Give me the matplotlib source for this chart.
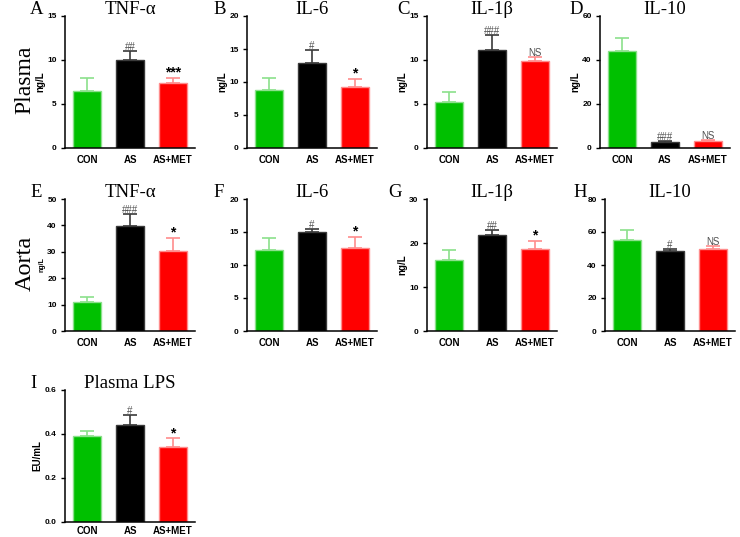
import matplotlib.pyplot as plt

# groups shared by every panel
groups = ['CON', 'AS', 'AS+MET']
bar_colors = ['#00c000', '#000000', '#ff0000']
edge_colors = ['#8be08b', '#3a3a3a', '#ff8c8c']

# panel data (mean, upper error end)
tnf_plasma = [6.5, 10.0, 7.35]
tnf_plasma_top = [7.95, 11.0, 8.0]
il6_plasma = [8.8, 12.9, 9.3]
il6_plasma_top = [10.55, 14.9, 10.4]
il1b_plasma = [5.25, 11.1, 9.9]
il1b_plasma_top = [6.35, 12.85, 10.33]
il10_plasma = [44.1, 2.9, 3.1]
il10_plasma_top = [50.0, 3.4, 3.8]

tnf_aorta = [10.8, 39.9, 30.2]
tnf_aorta_top = [12.7, 44.2, 35.1]
il6_aorta = [12.25, 15.0, 12.6]
il6_aorta_top = [14.1, 15.5, 14.3]
il1b_aorta = [16.25, 21.8, 18.75]
il1b_aorta_top = [18.45, 22.9, 20.4]
il10_aorta = [55.1, 48.2, 49.4]
il10_aorta_top = [61.5, 50.0, 51.8]

lps = [0.39, 0.442, 0.343]
lps_top = [0.412, 0.485, 0.38]

# significance marks above AS and AS+MET
marks = {
    'A': ['##', '***'], 'B': ['#', '*'], 'C': ['###', 'NS'], 'D': ['###', 'NS'],
    'E': ['###', '*'], 'F': ['#', '*'], 'G': ['##', '*'], 'H': ['#', 'NS'],
    'I': ['#', '*'],
}

panels = [
    # letter, title, means, tops, ymax, ystep, ylabel, ylabel size
    ('A', 'TNF-α', tnf_plasma, tnf_plasma_top, 15, 5, 'ng/L', 7),
    ('B', 'IL-6', il6_plasma, il6_plasma_top, 20, 5, 'ng/L', 7),
    ('C', 'IL-1β', il1b_plasma, il1b_plasma_top, 15, 5, 'ng/L', 7),
    ('D', 'IL-10', il10_plasma, il10_plasma_top, 60, 20, 'ng/L', 7),
    ('E', 'TNF-α', tnf_aorta, tnf_aorta_top, 50, 10, 'ng/L', 5),
    ('F', 'IL-6', il6_aorta, il6_aorta_top, 20, 5, '', 7),
    ('G', 'IL-1β', il1b_aorta, il1b_aorta_top, 30, 10, 'ng/L', 7),
    ('H', 'IL-10', il10_aorta, il10_aorta_top, 80, 20, '', 7),
    ('I', 'Plasma LPS', lps, lps_top, 0.6, 0.2, 'EU/mL', 7),
]

W, H = 740, 537
# axes left edge (px), axes top (px), letter x (px)
layout = {
    'A': (65, 16, 37), 'B': (247, 16, 220), 'C': (427, 16, 403), 'D': (600, 16, 576),
    'E': (65, 199, 36), 'F': (247, 199, 219), 'G': (427, 199, 395), 'H': (605, 199, 580),
    'I': (65, 390, 33),
}
ax_w, ax_h = 130, 132

serif = 'Liberation Serif'
sans = 'Liberation Sans'

fig = plt.figure(figsize=(W / 100, H / 100), dpi=100)

for letter, title, means, tops, ymax, ystep, ylabel, ylsize in panels:
    left, top, lx = layout[letter]
    ax = fig.add_axes([left / W, 1 - (top + ax_h) / H, ax_w / W, ax_h / H])
    x = list(range(len(groups)))
    errs = [t - m for t, m in zip(tops, means)]
    for i in x:
        ax.bar(i, means[i], width=0.65, color=bar_colors[i],
               edgecolor=edge_colors[i], linewidth=1.0, zorder=2)
        ax.errorbar(i, means[i], yerr=[[0], [errs[i]]], color=edge_colors[i],
                    elinewidth=1.2, capsize=5, capthick=1.2, zorder=1)
    ax.set_xlim(-0.51, 2.51)
    ax.set_ylim(0, ymax)
    n = int(round(ymax / ystep))
    ticks = [ystep * k for k in range(n + 1)]
    ax.set_yticks(ticks)
    if ystep < 1:
        ax.set_yticklabels([f'{t:.1f}' for t in ticks])
    else:
        ax.set_yticklabels([f'{t:g}' for t in ticks])
    ax.set_xticks(x)
    ax.set_xticklabels(groups)
    for lab in ax.get_yticklabels():
        lab.set_fontfamily(sans)
        lab.set_fontweight('bold')
        lab.set_fontsize(6)
    for lab in ax.get_xticklabels():
        lab.set_fontfamily(sans)
        lab.set_fontweight('bold')
        lab.set_fontsize(7)
    ax.tick_params(axis='y', direction='out', length=3, width=1, pad=3)
    # bottom row sits at the figure edge, pull its labels in a little
    ax.tick_params(axis='x', length=0, pad=3 if letter == 'I' else 5)
    for s in ['top', 'right']:
        ax.spines[s].set_visible(False)
    for s in ['left', 'bottom']:
        ax.spines[s].set_linewidth(1.1)
    if ylabel:
        ax.set_ylabel(ylabel, fontfamily=sans, fontweight='bold',
                      fontsize=ylsize, labelpad=1.5)
    fig.text((left + ax_w / 2) / W, 1 - (top - 2) / H, title,
             fontfamily=serif, fontsize=13.5, ha='center', va='baseline')
    fig.text(lx / W, 1 - (top - 2) / H, letter, fontfamily=serif,
             fontsize=13.5, ha='center', va='baseline')

    # significance marks
    for j, m in enumerate(marks[letter]):
        i = j + 1
        if m.startswith('#') or m == 'NS':
            ax.text(i, tops[i] - ymax * 0.008, m, ha='center', va='bottom',
                    fontsize=7, color='#505050', fontfamily=sans)
        else:
            ax.text(i, tops[i] - ymax * 0.012, m, ha='center', va='bottom',
                    fontsize=10, color='black', fontfamily=sans,
                    fontweight='bold')

fig.text(25 / W, 1 - 80 / H, 'Plasma', rotation=90, fontfamily=serif,
         fontsize=17, ha='center', va='center')
fig.text(25 / W, 1 - 263 / H, 'Aorta', rotation=90, fontfamily=serif,
         fontsize=17.5, ha='center', va='center')

fig.savefig('out.png', dpi=100)
